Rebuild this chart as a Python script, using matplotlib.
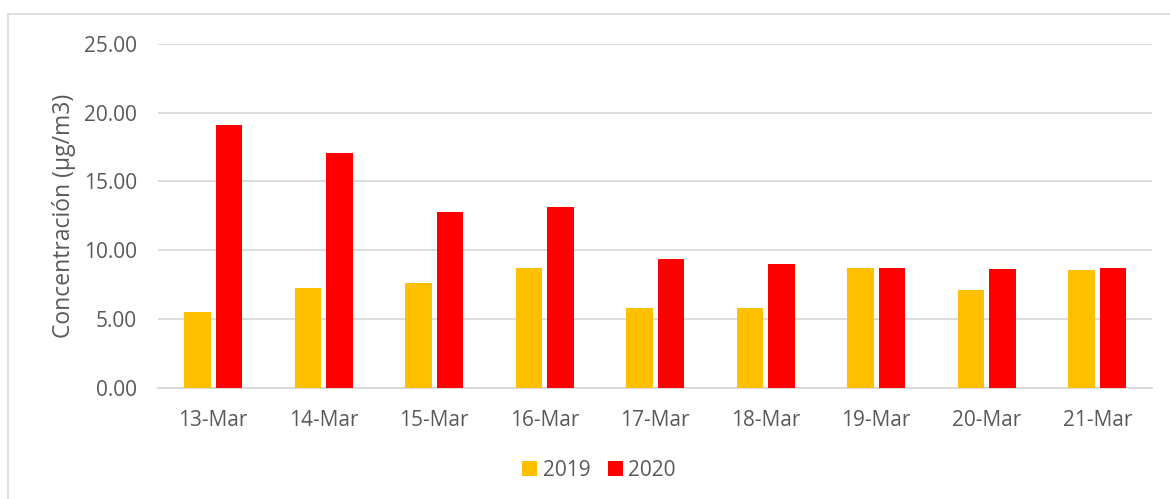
import matplotlib.pyplot as plt
import numpy as np
from matplotlib.patches import Rectangle

# Data
dates = ['13-Mar', '14-Mar', '15-Mar', '16-Mar', '17-Mar', '18-Mar', '19-Mar', '20-Mar', '21-Mar']
conc_2019 = [5.50, 7.27, 7.58, 8.72, 5.82, 5.82, 8.67, 7.10, 8.58]
conc_2020 = [19.10, 17.04, 12.81, 13.17, 9.33, 9.01, 8.67, 8.60, 8.72]

plt.rcParams['font.family'] = ['Open Sans', 'DejaVu Sans']
text_color = '#595959'
grid_color = '#d9d9d9'

fig = plt.figure(figsize=(11.7, 4.99), dpi=100)
ax = fig.add_axes([0.135, 0.2234, 0.85, 0.6884])

x = np.arange(len(dates))
width = 0.24
offset = 0.1425
ax.bar(x - offset, conc_2019, width, color='#FFC000', label='2019', zorder=3)
ax.bar(x + offset, conc_2020, width, color='#FF0000', label='2020', zorder=3)

ax.set_xlim(-0.5, len(dates) - 0.5)
ax.set_ylim(0, 25)
ax.set_yticks(np.arange(0, 26, 5))
ax.set_yticklabels([f'{v:.2f}' for v in np.arange(0, 26, 5)])
ax.set_xticks(x)
ax.set_xticklabels(dates)
ax.tick_params(axis='both', length=0, labelsize=15, colors=text_color)
ax.tick_params(axis='y', pad=15)
ax.tick_params(axis='x', pad=16)

ax.yaxis.grid(True, color=grid_color, linewidth=1.3, zorder=0)
for side in ['top', 'right', 'left']:
    ax.spines[side].set_visible(False)
ax.spines['bottom'].set_color(grid_color)
ax.spines['bottom'].set_linewidth(1.3)

ax.set_ylabel('Concentración (µg/m3)', fontsize=16.5, color=text_color, labelpad=6)

# legend centred under the chart, in figure coordinates
fig.legend(*ax.get_legend_handles_labels(), loc='center',
           bbox_to_anchor=(599 / 1170, 1 - 470 / 499), ncol=2, frameon=False,
           fontsize=15, labelcolor=text_color, handlelength=0.72, handleheight=0.72,
           handletextpad=0.25, columnspacing=0.85, borderpad=0)

# light border around the chart area
fig.patches.append(Rectangle((8 / 1170, -0.01), 1.1, 1 - 14 / 499 + 0.01,
                             transform=fig.transFigure, fill=False,
                             edgecolor=grid_color, linewidth=1.2))

fig.savefig('out.png', dpi=100)
